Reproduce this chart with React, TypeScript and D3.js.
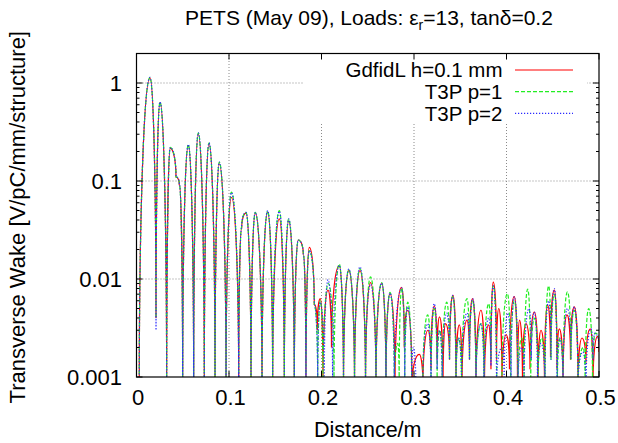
import React from "react";
import * as d3 from "d3";

const Z = 0.0008; // just below the axis floor: the zero crossings of |W|

const xTicks = [0, 0.1, 0.2, 0.3, 0.4, 0.5];
const xTickLabels = ["0", "0.1", "0.2", "0.3", "0.4", "0.5"];
const yTicks = [0.001, 0.01, 0.1, 1];
const yTickLabels = ["0.001", "0.01", "0.1", "1"];
const seriesNames = ["GdfidL h=0.1 mm", "T3P p=1", "T3P p=2"];
const seriesColors = ["#ff0000", "#22ee22", "#2a2aff"];

const gdfidl: [number, number][] = [
  [0.003, Z], [0.0146, 1.12], [0.0211, 0.004], [0.0254, 0.63], [0.0326, Z], [0.0365, 0.215], [0.0427, 0.11], [0.0463, 0.092],
  [0.0499, Z], [0.056, 0.23], [0.0618, Z], [0.0668, 0.3], [0.0733, Z], [0.0784, 0.24], [0.0849, Z], [0.0895, 0.15],
  [0.0968, Z], [0.1027, 0.068], [0.1105, Z], [0.1137, 0.033], [0.1184, 0.047], [0.1238, Z], [0.1284, 0.047], [0.1357, Z],
  [0.1418, 0.048], [0.1472, Z], [0.1544, 0.041], [0.1598, Z], [0.1645, 0.039], [0.1706, Z], [0.1749, 0.025], [0.1803, 0.018],
  [0.1832, Z], [0.1868, 0.021], [0.1922, 0.0055], [0.1955, 0.003], [0.1987, 0.0063], [0.2016, Z], [0.207, 0.0077], [0.2108, 0.002],
  [0.2192, 0.0136], [0.2238, Z], [0.2295, 0.0122], [0.2357, Z], [0.2416, 0.0122], [0.2476, Z], [0.253, 0.0092], [0.2589, Z],
  [0.2651, 0.009], [0.2697, Z], [0.2741, 0.0071], [0.2795, Z], [0.2865, 0.0082], [0.2895, 0.002], [0.2932, 0.0048], [0.2978, Z],
  [0.3057, 0.0017], [0.3097, Z], [0.3151, 0.003], [0.3184, 0.0012], [0.3219, 0.0053], [0.3249, 0.0015], [0.3276, 0.0041], [0.3314, Z],
  [0.3341, 0.0035], [0.3384, 0.0015], [0.3422, 0.0068], [0.3454, Z], [0.349, 0.0034], [0.3519, Z], [0.3573, 0.0038], [0.36, 0.0015],
  [0.3632, 0.0063], [0.367, Z], [0.3724, 0.0048], [0.3762, Z], [0.3805, 0.0034], [0.3832, 0.0012], [0.3857, 0.0093], [0.3892, 0.0015],
  [0.3916, 0.005], [0.3951, Z], [0.3995, 0.0027], [0.4032, 0.0012], [0.4084, 0.0066], [0.4119, Z], [0.4141, 0.0038], [0.4173, Z],
  [0.4211, 0.0035], [0.4254, 0.0012], [0.4301, 0.0046], [0.4341, Z], [0.4373, 0.003], [0.4411, Z], [0.4445, 0.0054], [0.4476, 0.0016],
  [0.4517, 0.0077], [0.4546, 0.0012], [0.4571, 0.0031], [0.4611, Z], [0.4654, 0.0043], [0.4692, 0.0015], [0.4733, 0.0052], [0.4773, Z],
  [0.4816, 0.0025], [0.4859, 0.0014], [0.4906, 0.0031], [0.4935, Z], [0.4984, 0.0026], [0.5, 0.0018],
];

const t3pP1: [number, number][] = [
  [0.003, Z], [0.0146, 1.14], [0.0211, 0.004], [0.0254, 0.64], [0.0326, Z], [0.0365, 0.22], [0.0427, 0.11], [0.0463, 0.094],
  [0.0499, Z], [0.056, 0.235], [0.0618, Z], [0.0668, 0.31], [0.0733, Z], [0.0784, 0.245], [0.0849, Z], [0.0895, 0.156],
  [0.0968, Z], [0.1027, 0.077], [0.1105, Z], [0.1137, 0.034], [0.1184, 0.048], [0.1238, Z], [0.1284, 0.048], [0.1357, Z],
  [0.1418, 0.049], [0.1472, Z], [0.1544, 0.05], [0.1598, Z], [0.1645, 0.041], [0.1706, Z], [0.1749, 0.025], [0.1803, 0.018],
  [0.1832, Z], [0.1868, 0.0195], [0.1922, 0.0055], [0.1959, Z], [0.1987, 0.006], [0.2016, Z], [0.2075, 0.009], [0.2135, Z],
  [0.2192, 0.0142], [0.2238, Z], [0.2295, 0.0125], [0.2357, Z], [0.2416, 0.0128], [0.2476, Z], [0.253, 0.0105], [0.2589, Z],
  [0.2651, 0.0092], [0.2697, Z], [0.2741, 0.0073], [0.2787, Z], [0.2824, 0.0022], [0.284, Z], [0.2867, 0.0081], [0.29, Z],
  [0.2932, 0.0058], [0.2975, Z], [0.3095, Z], [0.3148, 0.0043], [0.3184, Z], [0.3219, 0.005], [0.325, Z], [0.3278, 0.003],
  [0.3305, Z], [0.3354, 0.0058], [0.3384, 0.0015], [0.3418, 0.0066], [0.3454, Z], [0.3483, 0.0025], [0.3514, Z], [0.3573, 0.0063],
  [0.36, 0.0015], [0.3635, 0.006], [0.367, Z], [0.3724, 0.0035], [0.3757, Z], [0.3808, 0.0056], [0.3832, 0.0015], [0.3857, 0.0085],
  [0.3895, Z], [0.395, Z], [0.401, 0.0071], [0.4045, Z], [0.4084, 0.006], [0.4124, Z], [0.4165, 0.0025], [0.419, Z],
  [0.4229, 0.0079], [0.4262, Z], [0.4301, 0.004], [0.434, Z], [0.438, 0.0025], [0.4416, Z], [0.4456, 0.0085], [0.4481, 0.0015],
  [0.4517, 0.007], [0.455, Z], [0.458, 0.0025], [0.4611, Z], [0.4659, 0.0074], [0.4697, 0.0015], [0.4733, 0.0048], [0.4773, Z],
  [0.483, 0.002], [0.485, Z], [0.4889, 0.005], [0.493, Z], [0.496, 0.0028], [0.5, 0.0025],
];

const t3pP2: [number, number][] = [
  [0.003, Z], [0.0146, 1.14], [0.0211, 0.003], [0.0254, 0.64], [0.0326, Z], [0.0365, 0.22], [0.0427, 0.11], [0.0463, 0.094],
  [0.0499, Z], [0.056, 0.235], [0.0618, Z], [0.0668, 0.31], [0.0733, Z], [0.0784, 0.245], [0.0849, Z], [0.0895, 0.156],
  [0.0968, Z], [0.1027, 0.076], [0.1105, Z], [0.1137, 0.034], [0.1184, 0.048], [0.1238, Z], [0.1284, 0.048], [0.1357, Z],
  [0.1418, 0.05], [0.1472, Z], [0.1544, 0.049], [0.1598, Z], [0.1645, 0.041], [0.1706, Z], [0.1749, 0.025], [0.1803, 0.018],
  [0.1832, Z], [0.1868, 0.0195], [0.1922, 0.0055], [0.1959, Z], [0.1987, 0.0058], [0.203, Z], [0.207, 0.0098], [0.212, Z],
  [0.2192, 0.0138], [0.2238, Z], [0.2295, 0.0126], [0.2357, Z], [0.2416, 0.0133], [0.2476, Z], [0.253, 0.0088], [0.2589, Z],
  [0.2651, 0.0091], [0.2697, Z], [0.2741, 0.0072], [0.2787, Z], [0.2867, 0.0081], [0.29, Z], [0.2932, 0.0052], [0.2975, Z],
  [0.2992, 0.002], [0.302, Z], [0.3095, Z], [0.3148, 0.0035], [0.3184, Z], [0.3219, 0.0056], [0.325, 0.0012], [0.3276, 0.003],
  [0.3305, Z], [0.3354, 0.0045], [0.3384, 0.0015], [0.3418, 0.0068], [0.3454, Z], [0.3483, 0.0025], [0.3514, Z], [0.3573, 0.0045],
  [0.36, 0.0015], [0.3635, 0.0063], [0.367, Z], [0.3724, 0.0035], [0.3757, Z], [0.3808, 0.004], [0.3832, 0.0013], [0.3857, 0.0085],
  [0.3892, Z], [0.3951, 0.002], [0.3975, Z], [0.4013, 0.0045], [0.4049, Z], [0.4084, 0.0066], [0.4124, Z], [0.4165, 0.002],
  [0.419, Z], [0.4243, 0.005], [0.4268, 0.0015], [0.4301, 0.0046], [0.4335, Z], [0.4373, 0.0022], [0.4416, Z], [0.4456, 0.006],
  [0.4481, 0.0015], [0.4517, 0.008], [0.4546, Z], [0.4575, 0.0025], [0.4611, Z], [0.4659, 0.005], [0.4697, 0.0015], [0.4733, 0.0052],
  [0.4773, Z], [0.4825, 0.0018], [0.486, Z], [0.4914, 0.0031], [0.4935, 0.0015], [0.4957, 0.0028], [0.5, 0.002],
];

const W = 618;
const H = 443;
const L = 136.5, R = 599, T = 53.5, B = 377;
const FONT = "'Liberation Sans', Arial, Helvetica, sans-serif";

// Curve drawing each segment as a quarter-arch: flat at the higher end,
// steep at the lower end (the look of |wake| lobes on a log axis).
function curveArch(context: any) {
  let n = 0;
  let px = 0, py = 0;
  const k = 0.55;
  return {
    areaStart() {},
    areaEnd() {},
    lineStart() { n = 0; },
    lineEnd() {},
    point(x: number, y: number) {
      x = +x; y = +y;
      if (n === 0) {
        context.moveTo(x, y);
      } else {
        const dx = x - px;
        if (y < py) {
          context.bezierCurveTo(px, py + k * (y - py), x - k * dx, y, x, y);
        } else {
          context.bezierCurveTo(px + k * dx, py, x, y - k * (y - py), x, y);
        }
      }
      n++;
      px = x; py = y;
    },
  };
}

export default function App() {
  const x = d3.scaleLinear().domain([0, 0.5]).range([L, R]);
  const y = d3.scaleLog().domain([0.001, 2]).range([B, T]);
  const line = d3
    .line<[number, number]>()
    .x((d) => x(d[0]))
    .y((d) => y(d[1]))
    .curve(curveArch as any);

  const minorTicks: number[] = [];
  for (const dec of [0.001, 0.01, 0.1, 1]) {
    for (let m = 2; m <= 9; m++) {
      const v = dec * m;
      if (v <= 2.0001) minorTicks.push(v);
    }
  }

  const series = [gdfidl, t3pP1, t3pP2];
  const dashes = [undefined, "4,2", "1.2,1.8"];

  const legendTop = 70;
  const legendStep = 21.7;

  return (
    <svg
      width={W}
      height={H}
      style={{ position: "absolute", left: 0, top: 0, background: "#fff" }}
      fontFamily={FONT}
    >
      <defs>
        <clipPath id="plotclip">
          <rect x={L} y={T} width={R - L} height={B - T} />
        </clipPath>
      </defs>
      <rect x={0} y={0} width={W} height={H} fill="#fff" />

      {/* grid */}
      <g stroke="#8a8a8a" strokeWidth={1} strokeDasharray="1,2">
        {xTicks.slice(1, -1).map((t) => (
          <line key={"gx" + t} x1={x(t)} x2={x(t)} y1={B} y2={T} />
        ))}
        {yTicks.slice(1).map((t) => (
          <line key={"gy" + t} x1={L} x2={R} y1={y(t)} y2={y(t)} />
        ))}
      </g>

      {/* legend background */}
      <rect x={303} y={T + 0.5} width={284} height={69} fill="#fff" />

      {/* data */}
      <g clipPath="url(#plotclip)" fill="none">
        {series.map((s, i) => (
          <path
            key={i}
            d={line(s) || ""}
            stroke={seriesColors[i]}
            strokeWidth={1.2}
            strokeDasharray={dashes[i]}
          />
        ))}
      </g>

      {/* ticks */}
      <g stroke="#000" strokeWidth={1}>
        {xTicks.map((t) => (
          <g key={"xt" + t}>
            <line x1={x(t)} x2={x(t)} y1={B} y2={B - 6} />
            <line x1={x(t)} x2={x(t)} y1={T} y2={T + 6} />
          </g>
        ))}
        {yTicks.map((t) => (
          <g key={"yt" + t}>
            <line x1={L} x2={L + 6} y1={y(t)} y2={y(t)} />
            <line x1={R} x2={R - 6} y1={y(t)} y2={y(t)} />
          </g>
        ))}
        {minorTicks.map((t) => (
          <g key={"ym" + t}>
            <line x1={L} x2={L + 3} y1={y(t)} y2={y(t)} />
            <line x1={R} x2={R - 3} y1={y(t)} y2={y(t)} />
          </g>
        ))}
      </g>

      {/* border */}
      <rect x={L} y={T} width={R - L} height={B - T} fill="none" stroke="#000" strokeWidth={1.2} />

      {/* tick labels */}
      <g fontSize={22} fill="#000">
        {xTicks.map((t, i) => (
          <text key={"xl" + t} x={x(t) + 1.5} y={405} textAnchor="middle">
            {xTickLabels[i]}
          </text>
        ))}
        {yTicks.map((t, i) => (
          <text key={"yl" + t} x={122} y={y(t) + 8} textAnchor="end">
            {yTickLabels[i]}
          </text>
        ))}
      </g>

      {/* axis titles */}
      <text x={(L + R) / 2} y={437} textAnchor="middle" fontSize={21.5}>
        Distance/m
      </text>
      <text
        transform={`translate(25, ${(T + B) / 2 + 2}) rotate(-90)`}
        textAnchor="middle"
        fontSize={22}
      >
        Transverse Wake [V/pC/mm/structure]
      </text>

      {/* title */}
      <text x={369} y={25} textAnchor="middle" fontSize={21}>
        PETS (May 09), Loads: ε
        <tspan fontSize={14} dy={5}>r</tspan>
        <tspan dy={-5}>=13, tanδ=0.2</tspan>
      </text>

      {/* legend */}
      <g fontSize={20.5}>
        {seriesNames.map((n, i) => (
          <g key={n}>
            <text x={502.5} y={legendTop + i * legendStep + 7.3} textAnchor="end">
              {n}
            </text>
            <line
              x1={515}
              x2={573}
              y1={legendTop + i * legendStep}
              y2={legendTop + i * legendStep}
              stroke={seriesColors[i]}
              strokeWidth={1.2}
              strokeDasharray={dashes[i]}
            />
          </g>
        ))}
      </g>
    </svg>
  );
}
